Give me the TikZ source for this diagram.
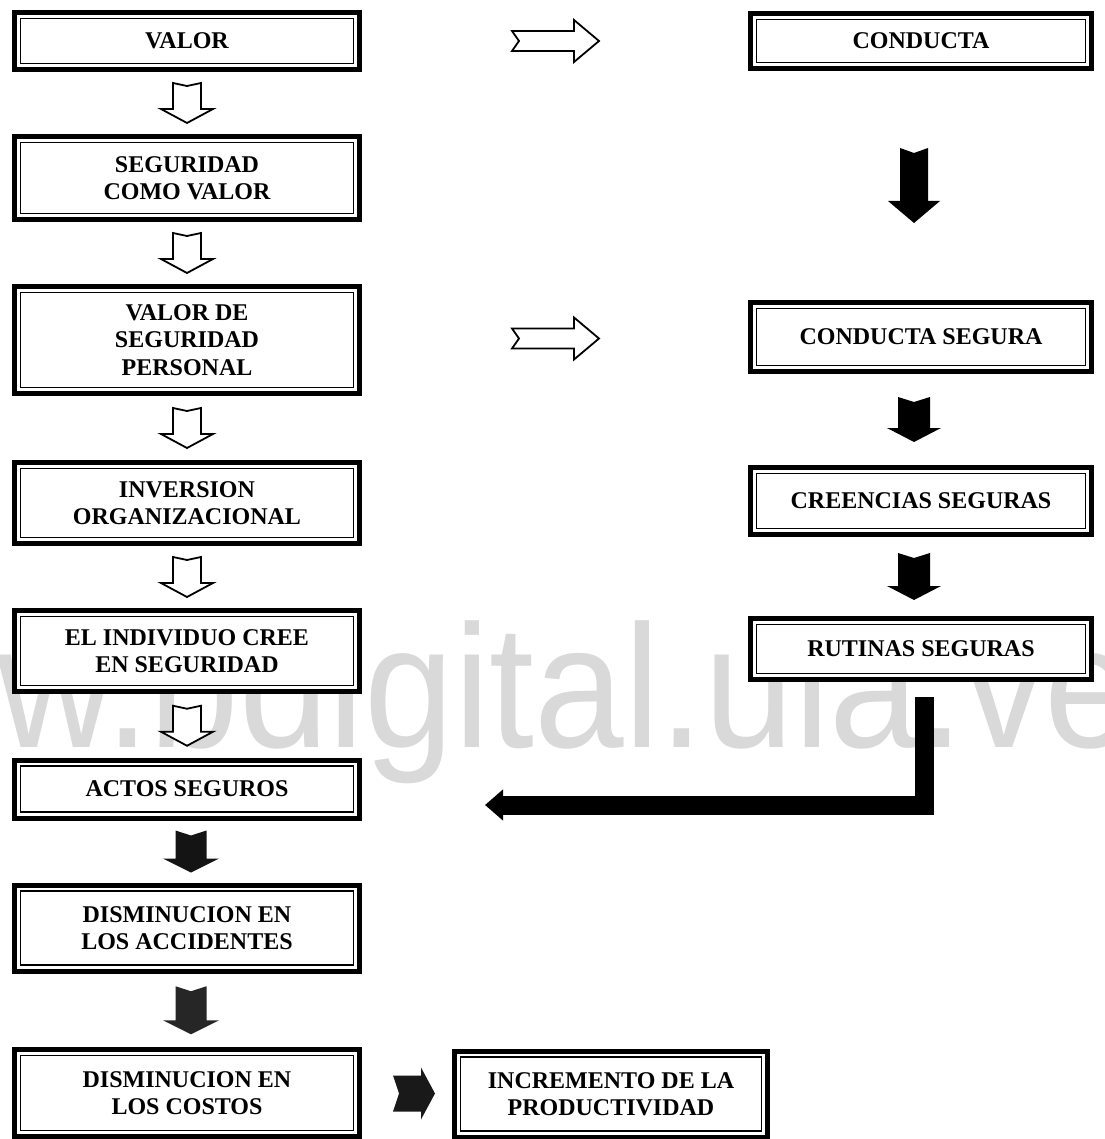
\documentclass[tikz,border=0pt]{standalone}
\usepackage{fontspec}
\setmainfont{Liberation Serif}
\newfontfamily\wmfont{Liberation Sans}
\usetikzlibrary{calc,arrows.meta}
\tikzset{
  box/.style={draw, line width=5pt, fill=white, align=center, inner sep=0pt,
    font=\bfseries\fontsize{24}{27.5}\selectfont,
    path picture={\draw[line width=1.5pt]
      ([shift={(6pt,-6pt)}]path picture bounding box.north west) rectangle
      ([shift={(-6pt,6pt)}]path picture bounding box.south east);}},
  lbox/.style={box, minimum width=345pt},
  rbox/.style={box, minimum width=341pt},
  hollow/.style={draw, line width=1.8pt, fill=white, line join=miter},
  pics/hdown/.style={code={\path[hollow] (-14,-20) -- (0,-17) -- (14,-20) -- (14,6) -- (26,6) -- (0,20) -- (-26,6) -- (-14,6) -- cycle;}},
  pics/hright/.style={code={\path[hollow] (-43,-10) -- (19,-10) -- (19,-21) -- (44,0) -- (19,21) -- (19,10) -- (-43,10) -- (-36,0) -- cycle;}},
  pics/dkdown/.style n args={5}{code={\fill[#5] (-#2,-#1) -- (0,{-#1+5}) -- (#2,-#1) -- (#2,{#1-#4}) -- (#3,{#1-#4}) -- (0,#1) -- (-#3,{#1-#4}) -- (-#2,{#1-#4}) -- cycle;}},
  pics/dkright/.style={code={\fill[black!90] (-21,-18) -- (7,-18) -- (7,-26) -- (21,0) -- (7,26) -- (7,18) -- (-21,18) -- (-15,0) -- cycle;}},
  watermark/.style={anchor=base west, inner sep=0pt, text=black!15, font=\wmfont\fontsize{175}{175}\selectfont}
}
\begin{document}
\begin{tikzpicture}[x=1pt,y=-1pt]
\useasboundingbox[fill=white] (0,0) rectangle (1104,1139);
\node[watermark] (wm) at (-235,747) {\scalebox{0.92}[1]{www.bdigital.ula.ve}};
% left column
\node[lbox, minimum height=57pt] (v1) at (187,41) {VALOR};
\node[lbox, minimum height=83pt] (v2) at (187,178) {SEGURIDAD\\COMO VALOR};
\node[lbox, minimum height=107pt] (v3) at (187,340) {VALOR DE\\SEGURIDAD\\PERSONAL};
\node[lbox, minimum height=81pt] (v4) at (187,503) {INVERSION\\ORGANIZACIONAL};
\node[lbox, minimum height=81pt] (v5) at (187,651) {EL INDIVIDUO CREE\\EN SEGURIDAD};
\node[lbox, minimum height=58pt] (v6) at (187,789) {ACTOS SEGUROS};
\node[lbox, minimum height=86pt] (v7) at (187,928) {DISMINUCION EN\\LOS ACCIDENTES};
\node[lbox, minimum height=87pt] (v8) at (187,1093) {DISMINUCION EN\\LOS COSTOS};
% right column
\node[rbox, minimum height=55pt] (r1) at (921,41) {CONDUCTA};
\node[rbox, minimum height=69pt] (r2) at (921,337) {CONDUCTA SEGURA};
\node[rbox, minimum height=67pt] (r3) at (921,501) {CREENCIAS SEGURAS};
\node[rbox, minimum height=61pt] (r4) at (921,649) {RUTINAS SEGURAS};
\node[box, minimum width=313pt, minimum height=86pt] (r5) at (611,1094) {INCREMENTO DE LA\\PRODUCTIVIDAD};
% hollow arrows
\pic at ($(v1.south)!0.5!(v2.north)$) {hdown};
\pic at ($(v2.south)!0.5!(v3.north)$) {hdown};
\pic at ($(v3.south)!0.5!(v4.north)$) {hdown};
\pic at ($(v4.south)!0.5!(v5.north)$) {hdown};
\pic at ($(v5.south)!0.5!(v6.north)$) {hdown};
\pic at ($(v1.east)!0.5!(r1.west)$) {hright};
\pic at ($(v3.east)!0.5!(r2.west)$) {hright};
% dark arrows
\pic at ($(v6.south)!0.5!(v7.north)+(4,0)$) {dkdown={21}{15.5}{28}{14}{black!92}};
\pic at ($(v7.south)!0.5!(v8.north)+(4,0)$) {dkdown={24}{15.5}{28}{14}{black!85}};
\pic at ($(r1.south)!0.5!(r2.north)+(-7,0)$) {dkdown={37.5}{14}{26}{22}{black}};
\pic at ($(r2.south)!0.5!(r3.north)+(-7,0)$) {dkdown={22.5}{16}{27}{14}{black}};
\pic at ($(r3.south)!0.5!(r4.north)+(-7,0)$) {dkdown={23.5}{16}{27}{14}{black}};
\pic at ($(v8.east)!0.5!(r5.west)+(7,0)$) {dkright};
% elbow arrow
\coordinate (elbowEnd) at ($(v6.east)+(123,16)$);
\draw[line width=19pt, -{Triangle[length=18pt,width=30pt]}] ($(r4.south)+(3,15)$) |- (elbowEnd);
\end{tikzpicture}
\end{document}
